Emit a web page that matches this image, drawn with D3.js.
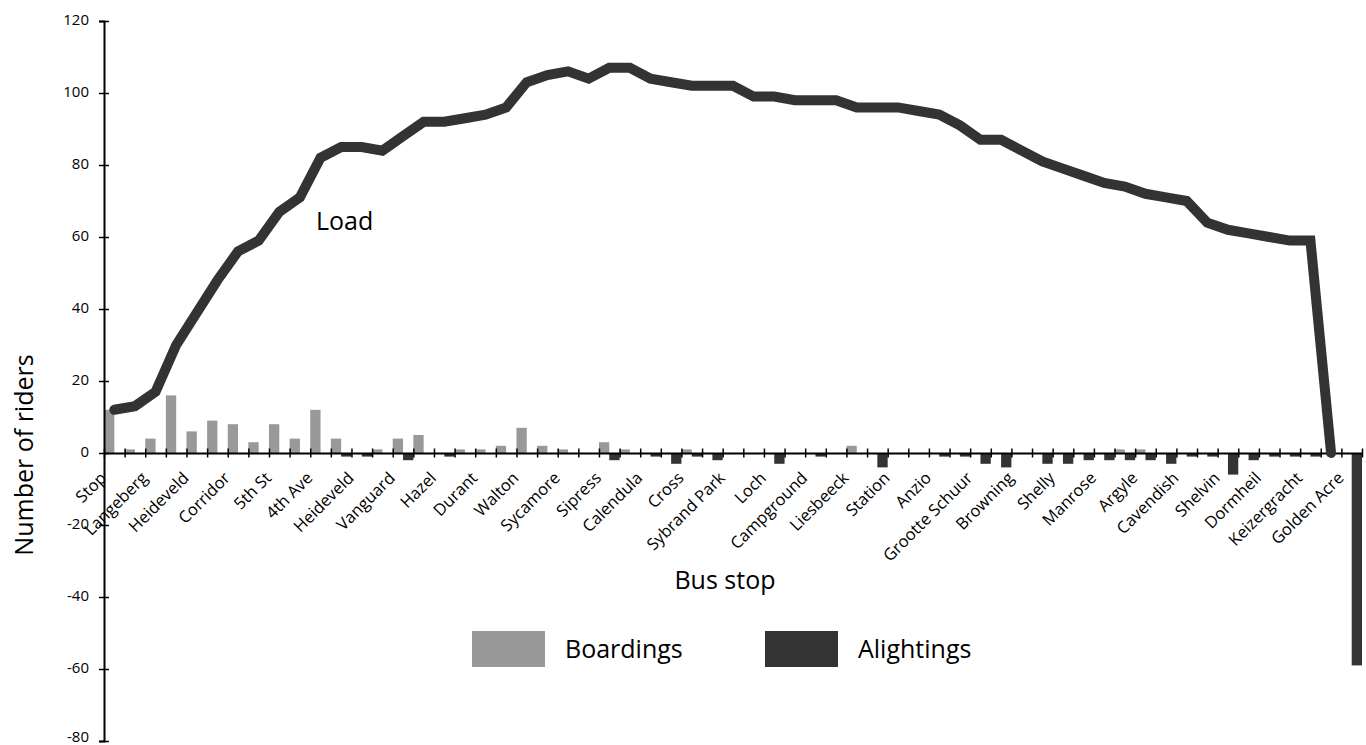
<!DOCTYPE html>
<html>
<head>
<meta charset="utf-8">
<script src="https://cdn.jsdelivr.net/npm/d3@7"></script>
<style>
  html, body { margin: 0; padding: 0; background: #fff; }
  svg { display: block; font-family: "Open Sans", "Noto Sans", sans-serif; }
</style>
</head>
<body>
<svg id="chart" width="1366" height="745"></svg>
<script>
// Tick labels shown under every other stop band
const stopLabels = ["Stop","Langeberg","Heideveld","Corridor","5th St","4th Ave","Heideveld","Vanguard","Hazel","Durant","Walton","Sycamore","Sipress","Calendula","Cross","Sybrand Park","Loch","Campground","Liesbeeck","Station","Anzio","Grootte Schuur","Browning","Shelly","Manrose","Argyle","Cavendish","Shelvin","Dormheil","Keizergracht","Golden Acre"];

// 61 stop bands
const boardings = [12,1,4,16,6,9,8,3,8,4,12,4,0,1,4,5,0,1,1,2,7,2,1,0,3,1,0,0,1,0,0,0,0,0,0,0,2,0,0,0,0,0,0,0,0,0,0,0,0,1,1,0,0,0,0,0,0,0,0,0,0];
const alightings = [0,0,0,0,0,0,0,0,0,0,0,-1,-1,0,-2,0,-1,0,0,0,0,0,0,0,-2,0,-1,-3,-1,-2,0,0,-3,0,-1,0,0,-4,0,0,-1,-1,-3,-4,0,-3,-3,-2,-2,-2,-2,-3,-1,-1,-6,-2,-1,-1,-1,0,-59];
// Load after each stop (60 points)
const load = [12,13,17,30,39,48,56,59,67,71,82,85,85,84,88,92,92,93,94,96,103,105,106,104,107,107,104,103,102,102,102,99,99,98,98,98,96,96,96,95,94,91,87,87,84,81,79,77,75,74,72,71,70,64,62,61,60,59,59,0];

const yTicks = [-80,-60,-40,-20,0,20,40,60,80,100,120];
const seriesNames = ["Boardings","Alightings"];
const seriesColors = ["#999999","#333333"];

const svg = d3.select("#chart");
const mLeft = 104, mRight = 1362, mTop = 21, mBottom = 741;
const nBands = boardings.length;

const y = d3.scaleLinear().domain([-80,120]).range([mBottom, mTop]);
const xBand = d3.scaleBand().domain(d3.range(nBands)).range([mLeft, mRight]).padding(0);
const xEdge = d3.scaleLinear().domain([0, nBands]).range([mLeft, mRight]);
const bw = xBand.bandwidth();

// Boardings bars (left half of band)
svg.append("g").selectAll("rect").data(boardings).join("rect")
  .attr("x", (d,i) => xBand(i))
  .attr("width", bw/2)
  .attr("y", d => y(Math.max(0,d)))
  .attr("height", d => Math.abs(y(d) - y(0)))
  .attr("fill", seriesColors[0]);

// Alightings bars (right half of band)
svg.append("g").selectAll("rect").data(alightings).join("rect")
  .attr("x", (d,i) => xBand(i) + bw/2)
  .attr("width", bw/2)
  .attr("y", d => y(Math.max(0,d)))
  .attr("height", d => Math.abs(y(d) - y(0)))
  .attr("fill", seriesColors[1]);

// Y axis
const yAxis = svg.append("g").attr("transform", `translate(${mLeft},0)`)
  .call(d3.axisLeft(y).tickValues(yTicks).tickFormat(d => String(d))
    .tickSizeOuter(0).tickSize(5).tickPadding(10));
yAxis.select(".domain").attr("stroke","#000").attr("stroke-width",2);
yAxis.selectAll(".tick line").attr("x1",-5).attr("x2",5).attr("stroke","#000").attr("stroke-width",1.5);
yAxis.selectAll(".tick text").attr("font-size",15).attr("fill","#000")
  .attr("dy", d => d === -80 ? "0.0em" : "0.22em")
  .attr("font-family",'"Open Sans", sans-serif');

// X axis at zero
const xAxis = svg.append("g").attr("transform", `translate(0,${y(0)})`)
  .call(d3.axisBottom(xEdge).tickValues(d3.range(0, nBands+1)).tickSizeOuter(0).tickFormat(""));
xAxis.select(".domain").attr("stroke","#000").attr("stroke-width",2);
xAxis.selectAll(".tick line").attr("y1",-4.5).attr("y2",4.5).attr("stroke","#000").attr("stroke-width",1.5);

// Rotated stop labels on every other band
svg.append("g").selectAll("text").data(stopLabels).join("text")
  .attr("transform", (d,j) => `translate(${xBand(j*2) + bw/2 - 7},${y(0) + 26}) rotate(-45)`)
  .attr("text-anchor","end")
  .attr("font-size",16.5)
  .attr("fill","#000")
  .text(d => d);

// Load line
const line = d3.line().x((d,i) => xBand(i) + bw/2).y(d => y(d));
svg.append("path").datum(load)
  .attr("d", line)
  .attr("fill","none")
  .attr("stroke","#333333")
  .attr("stroke-width",10)
  .attr("stroke-linejoin","miter")
  .attr("stroke-linecap","round");

// Load label
svg.append("text").attr("x",316).attr("y",230).attr("font-size",25).attr("fill","#000").text("Load");

// Axis titles
svg.append("text").attr("x",725).attr("y",589).attr("text-anchor","middle")
  .attr("font-size",25).attr("fill","#000").text("Bus stop");
svg.append("text").attr("transform","translate(33,455) rotate(-90)").attr("text-anchor","middle")
  .attr("font-size",25).attr("fill","#000").text("Number of riders");

// Legend
const legX = [472, 765];
const lg = svg.append("g").selectAll("g").data(seriesNames).join("g")
  .attr("transform", (d,i) => `translate(${legX[i]},631)`);
lg.append("rect").attr("width",73).attr("height",36).attr("fill",(d,i) => seriesColors[i]);
lg.append("text").attr("x",93).attr("y",27).attr("font-size",25).attr("fill","#000").text(d => d);
</script>
</body>
</html>
